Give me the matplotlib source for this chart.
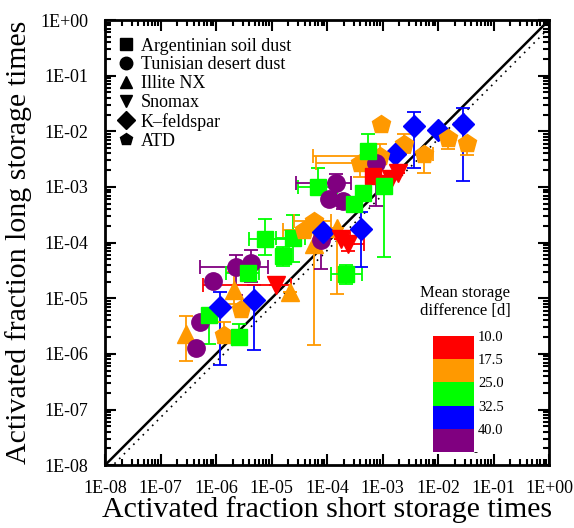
import numpy as np
import matplotlib
matplotlib.use("Agg")
import matplotlib.pyplot as plt
from matplotlib.colors import ListedColormap, BoundaryNorm
from matplotlib.lines import Line2D
from matplotlib.ticker import LogLocator, FuncFormatter, NullFormatter

plt.rcParams['font.family'] = ['Liberation Serif', 'DejaVu Serif']

# material of each point, mean storage difference [d], values and error bar ends
material = ['illite', 'tun', 'tun', 'soil', 'kfs', 'atd', 'soil', 'illite', 'atd', 'kfs',
            'tun', 'tun', 'tun', 'soil', 'snomax', 'illite', 'soil', 'soil', 'soil', 'atd',
            'atd', 'illite', 'illite', 'soil', 'tun', 'tun', 'tun', 'tun', 'kfs', 'snomax',
            'snomax', 'soil', 'kfs', 'atd', 'kfs', 'kfs', 'kfs', 'atd', 'atd', 'atd',
            'kfs', 'atd', 'atd', 'atd', 'tun', 'soil', 'soil', 'snomax', 'snomax', 'snomax',
            'soil', 'soil', 'soil']
days = [21, 45, 45, 29, 36, 21, 29, 21, 21, 36,
        45, 45, 45, 29, 14, 21, 29, 29, 29, 21,
        21, 21, 21, 29, 45, 45, 45, 45, 36, 14,
        14, 29, 36, 21, 36, 36, 36, 21, 21, 21,
        36, 21, 21, 21, 45, 29, 14, 14, 14, 14,
        29, 29, 29]
x_short = [2.9e-7, 4.4e-7, 5.2e-7, 7.5e-7, 1.18e-6, 1.39e-6, 2.6e-6, 2.1e-6, 2.8e-6, 4.8e-6,
           2.3e-6, 4.3e-6, 8.8e-7, 3.8e-6, 1.2e-5, 2.15e-5, 7.6e-6, 1.6e-5, 2.4e-5, 3.85e-5,
           5.8e-5, 5.8e-5, 1.5e-4, 6.9e-5, 1.45e-4, 1.09e-4, 1.94e-4, 7.8e-5, 8.5e-5, 1.79e-4,
           2.4e-4, 2.2e-4, 4.1e-4, 9.4e-4, 3.7e-3, 1.0e-2, 2.8e-2, 1.51e-2, 3.33e-2, 2.44e-3,
           1.68e-3, 5.6e-3, 9.0e-4, 3.9e-4, 7.6e-4, 5.5e-4, 6.7e-4, 1.9e-3, 1.42e-3, 1.11e-3,
           4.5e-4, 3.1e-4, 1.06e-3]
y_long = [2.25e-6, 1.3e-6, 3.7e-6, 5.0e-6, 6.95e-6, 2.16e-6, 1.99e-6, 1.4e-5, 6.4e-6, 9.3e-6,
          3.7e-5, 4.35e-5, 2.05e-5, 2.86e-5, 1.74e-5, 1.3e-5, 1.18e-4, 5.8e-5, 1.23e-4, 1.7e-4,
          2.4e-4, 9.6e-5, 1.83e-4, 9.9e-4, 1.17e-3, 6.0e-4, 5.5e-4, 1.13e-4, 1.58e-4, 1.18e-4,
          9.6e-5, 2.75e-5, 1.79e-4, 1.37e-2, 1.26e-2, 1.06e-2, 1.37e-2, 7.6e-3, 6.2e-3, 5.9e-3,
          3.9e-3, 3.9e-3, 3.6e-3, 2.7e-3, 2.7e-3, 4.4e-3, 1.57e-3, 1.77e-3, 1.38e-3, 1.12e-3,
          7.7e-4, 4.9e-4, 1.03e-3]
x_low = [2.9e-7, 4.4e-7, 5.2e-7, 7.5e-7, 1.18e-6, 1.39e-6, 2.6e-6, 2.1e-6, 2.8e-6, 4.8e-6,
         5.2e-7, 4.3e-6, 8.8e-7, 1.5e-6, 5.8e-7, 2.15e-5, 4.0e-6, 1.6e-5, 1.2e-5, 1.6e-5,
         2.5e-5, 5.8e-5, 1.5e-4, 3.0e-5, 2.8e-5, 1.09e-4, 1.94e-4, 7.8e-5, 8.5e-5, 1.79e-4,
         2.4e-4, 1.18e-4, 4.1e-4, 9.4e-4, 3.7e-3, 1.0e-2, 2.8e-2, 1.51e-2, 3.33e-2, 2.44e-3,
         1.68e-3, 5.6e-3, 5.6e-5, 6.3e-5, 7.6e-4, 5.5e-4, 5.0e-4, 1.9e-3, 1.42e-3, 1.11e-3,
         4.5e-4, 3.1e-4, 1.06e-3]
x_high = [2.9e-7, 4.4e-7, 5.2e-7, 7.5e-7, 1.18e-6, 1.39e-6, 2.6e-6, 2.1e-6, 2.8e-6, 4.8e-6,
          8.6e-6, 4.3e-6, 8.8e-7, 6.0e-6, 2.2e-5, 2.15e-5, 3.1e-5, 1.6e-5, 4.0e-5, 6.0e-5,
          1.2e-4, 5.8e-5, 1.5e-4, 1.5e-4, 2.7e-4, 1.09e-4, 1.94e-4, 7.8e-5, 8.5e-5, 2.6e-4,
          4.6e-4, 4.3e-4, 4.1e-4, 9.4e-4, 3.7e-3, 1.0e-2, 2.8e-2, 1.51e-2, 3.33e-2, 2.44e-3,
          1.68e-3, 8.0e-3, 9.0e-4, 3.9e-4, 7.6e-4, 5.5e-4, 9.0e-4, 1.9e-3, 1.42e-3, 1.11e-3,
          4.5e-4, 3.1e-4, 1.06e-3]
y_low = [7.3e-7, 1.3e-6, 3.7e-6, 1.5e-6, 6.2e-7, 1.6e-6, 1.99e-6, 8.0e-6, 6.4e-6, 1.16e-6,
         1.15e-5, 2.0e-5, 2.05e-5, 2.86e-5, 1.74e-5, 1.3e-5, 6.0e-5, 3.8e-5, 4.5e-5, 1.7e-4,
         2.4e-4, 1.43e-6, 1.2e-5, 9.9e-4, 7.0e-4, 6.0e-4, 4.0e-4, 3.3e-5, 1.58e-4, 1.18e-4,
         7.0e-5, 1.8e-5, 3.7e-5, 1.37e-2, 2.2e-3, 1.06e-2, 1.27e-3, 4.8e-3, 3.76e-3, 4.0e-3,
         3.9e-3, 1.77e-3, 3.6e-3, 1.5e-3, 4.5e-4, 3.0e-3, 1.2e-3, 1.77e-3, 1.38e-3, 1.12e-3,
         7.7e-4, 4.9e-4, 5.6e-5]
y_high = [4.8e-6, 1.3e-6, 3.7e-6, 6.0e-6, 1.3e-5, 3.7e-6, 3.5e-6, 3.0e-5, 6.4e-6, 1.74e-5,
          6.1e-5, 7.5e-5, 2.05e-5, 2.86e-5, 1.74e-5, 1.3e-5, 2.7e-4, 8.5e-5, 3.2e-4, 1.7e-4,
          2.4e-4, 1.6e-4, 1.83e-4, 2.2e-3, 1.7e-3, 6.0e-4, 7.0e-4, 1.13e-4, 1.58e-4, 1.18e-4,
          9.6e-5, 4.0e-5, 3.6e-4, 1.37e-2, 2.25e-2, 1.06e-2, 2.66e-2, 7.6e-3, 6.2e-3, 9.0e-3,
          3.9e-3, 3.9e-3, 6.0e-3, 2.7e-3, 3.8e-3, 9.0e-3, 2.0e-3, 1.77e-3, 1.38e-3, 1.12e-3,
          7.7e-4, 4.9e-4, 1.5e-3]

materials = ['soil', 'tun', 'illite', 'snomax', 'kfs', 'atd']
legend_labels = ['Argentinian soil dust', 'Tunisian desert dust', 'Illite NX',
                 'Snomax', 'K\u2013feldspar', 'ATD']
markers = {'soil': 's', 'tun': 'o', 'illite': '^', 'snomax': 'v', 'kfs': 'D', 'atd': 'p'}
msizes = {'soil': 11.5, 'tun': 12.5, 'illite': 13.5, 'snomax': 13.5, 'kfs': 11.5, 'atd': 13.5}

bounds = [10.0, 17.5, 25.0, 32.5, 40.0, 47.5]
cmap = ListedColormap(['#ff0000', '#ff9900', '#00ff00', '#0000ff', '#800080'])
norm = BoundaryNorm(bounds, cmap.N)

fig = plt.figure(figsize=(5.74, 5.28), dpi=100)
ax = fig.add_axes([0.183, 0.119, 0.7735, 0.843])

lim = [1e-8, 1.0]
ax.plot(lim, lim, color='black', lw=1.8, zorder=1)
ax.plot(lim, [v * 0.72 for v in lim], color='black', lw=1.2, ls=(0, (1, 3)), zorder=1)

for i in range(len(x_short)):
    c = cmap(norm(days[i]))
    x, y = x_short[i], y_long[i]
    xe = [[x - x_low[i]], [x_high[i] - x]]
    ye = [[y - y_low[i]], [y_high[i] - y]]
    ax.errorbar([x], [y], xerr=xe, yerr=ye, fmt=markers[material[i]],
                ms=msizes[material[i]], color=c, mec=c, ecolor=c,
                elinewidth=1.3, capsize=5, capthick=1.3, zorder=2)

ax.set_xscale('log')
ax.set_yscale('log')
ax.set_xlim(lim)
ax.set_ylim(lim)


def sci_label(v, pos):
    e = int(round(np.log10(v)))
    return '1E{}{:02d}'.format('+' if e >= 0 else '-', abs(e))


for a in (ax.xaxis, ax.yaxis):
    a.set_major_locator(LogLocator(base=10, numticks=20))
    a.set_minor_locator(LogLocator(base=10, subs=np.arange(2, 10), numticks=20))
    a.set_major_formatter(FuncFormatter(sci_label))
    a.set_minor_formatter(NullFormatter())
ax.tick_params(which='both', direction='in', top=True, right=True, width=1.5, labelsize=13)
ax.tick_params(which='major', length=8)
ax.tick_params(which='minor', length=4)
ax.tick_params(axis='x', pad=11)
ax.tick_params(axis='y', pad=12)
for s in ax.spines.values():
    s.set_linewidth(2)

ax.set_xlabel('Activated fraction short storage times', fontsize=21.5, labelpad=-1)
ax.set_ylabel('Activated fraction long storage times', fontsize=21.5, labelpad=6)

handles = [Line2D([], [], ls='none', marker=markers[m], color='black', ms=9) for m in materials]
ax.legend(handles, legend_labels, loc='upper left', bbox_to_anchor=(-0.005, 0.997),
          frameon=False, fontsize=13, handlelength=0.8, handletextpad=0.4,
          labelspacing=0.1, borderaxespad=0.5)

cax = fig.add_axes([0.754, 0.144, 0.0714, 0.22])
cb = fig.colorbar(plt.cm.ScalarMappable(norm=norm, cmap=cmap), cax=cax,
                  boundaries=bounds, ticks=bounds[:-1])
cax.invert_yaxis()
cb.outline.set_visible(False)
cb.set_ticklabels(['{:.1f}'.format(b) for b in bounds[:-1]])
cax.tick_params(length=0, labelsize=10.5, pad=3)
fig.text(0.81, 0.428, 'Mean storage\ndifference [d]', ha='center', va='center',
         fontsize=12, linespacing=1.15)

fig.savefig('out.png', dpi=100)
